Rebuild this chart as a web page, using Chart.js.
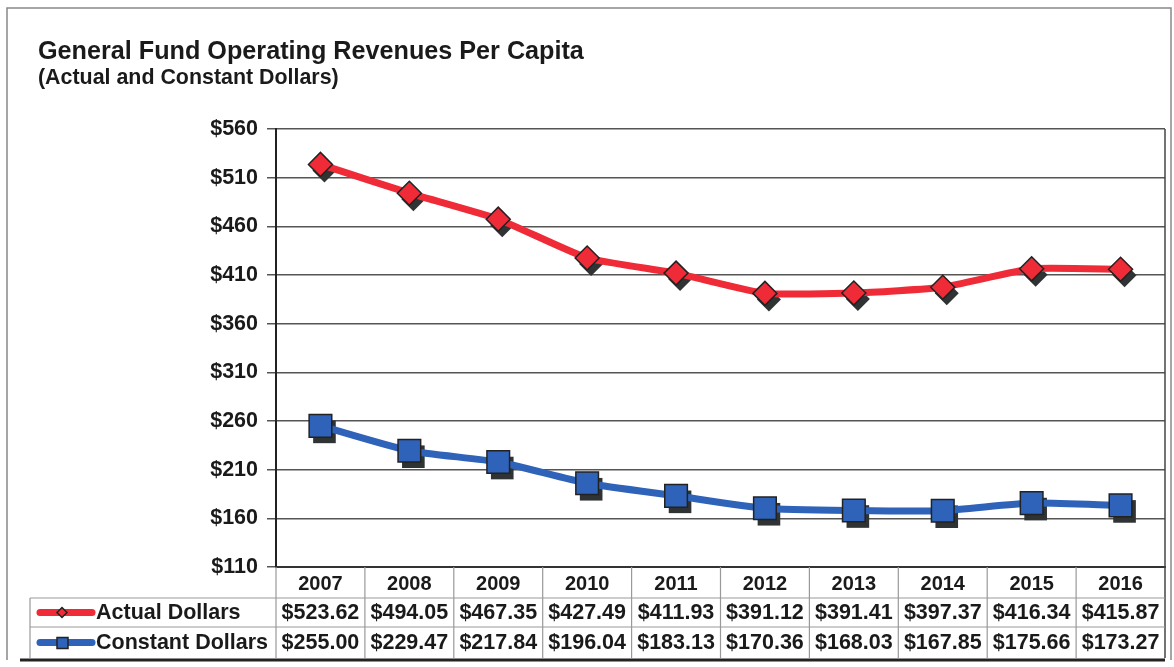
<!DOCTYPE html>
<html>
<head>
<meta charset="utf-8">
<script src="https://cdn.jsdelivr.net/npm/chart.js@4.4.1/dist/chart.umd.min.js"></script>
<style>
  html, body { margin: 0; padding: 0; background: #fff; }
  #wrap { position: relative; width: 1174px; height: 667px; font-family: "Liberation Sans", Arial, sans-serif; }
  #title { position: absolute; left: 38px; top: 36px; font-weight: bold; font-size: 25.2px; color: #1a1a1a; white-space: nowrap; }
  #subtitle { position: absolute; left: 38px; top: 65px; font-weight: bold; font-size: 21.4px; color: #1a1a1a; white-space: nowrap; }
  canvas { position: absolute; left: 0; top: 0; }
</style>
</head>
<body>
<div id="wrap">
  <canvas id="c" width="1174" height="667"></canvas>
  <div id="title">General Fund Operating Revenues Per Capita</div>
  <div id="subtitle">(Actual and Constant Dollars)</div>
</div>
<script>
const categories = ["2007","2008","2009","2010","2011","2012","2013","2014","2015","2016"];
const actualDollars = [523.62, 494.05, 467.35, 427.49, 411.93, 391.12, 391.41, 397.37, 416.34, 415.87];
const constantDollars = [255.00, 229.47, 217.84, 196.04, 183.13, 170.36, 168.03, 167.85, 175.66, 173.27];
const seriesNames = ["Actual Dollars", "Constant Dollars"];
const yTicks = [110, 160, 210, 260, 310, 360, 410, 460, 510, 560];

const RED = "#ee2b36";
const BLUE = "#2e63b9";
const FONT = '"Liberation Sans", Arial, sans-serif';

const shadowPlugin = {
  id: "markerShadow",
  beforeDatasetsDraw(chart) {
    const ctx = chart.ctx;
    ctx.save();
    ctx.fillStyle = "#2f3333";
    chart.data.datasets.forEach((ds, di) => {
      const meta = chart.getDatasetMeta(di);
      meta.data.forEach(pt => {
        const x = pt.x + 4, y = pt.y + 6;
        ctx.beginPath();
        if (ds.pointStyle === "rectRot") {
          const r = ds.pointRadius;
          ctx.moveTo(x - r, y); ctx.lineTo(x, y - r); ctx.lineTo(x + r, y); ctx.lineTo(x, y + r);
        } else {
          const s = ds.pointRadius * Math.SQRT1_2;
          ctx.rect(x - s, y - s, 2 * s, 2 * s);
        }
        ctx.closePath();
        ctx.fill();
      });
    });
    ctx.restore();
  }
};

const framePlugin = {
  id: "frameTable",
  beforeDraw(chart) {
    const ctx = chart.ctx;
    ctx.save();
    ctx.fillStyle = "#fff";
    ctx.fillRect(0, 0, chart.width, chart.height);
    ctx.strokeStyle = "#888";
    ctx.lineWidth = 1.5;
    ctx.beginPath();
    ctx.moveTo(7, 660); ctx.lineTo(7, 8); ctx.lineTo(1171, 8); ctx.lineTo(1171, 660);
    ctx.stroke();
    ctx.restore();
  },
  afterDraw(chart) {
    const ctx = chart.ctx;
    const ca = chart.chartArea;
    const xs = chart.scales.x;
    const colW = (ca.right - ca.left) / categories.length;
    const rowTop = ca.bottom, r1 = 598, r2 = 627, r3 = 658;
    const tableLeft = 30;
    ctx.save();
    ctx.strokeStyle = "#444";
    ctx.lineWidth = 1.5;
    ctx.beginPath();
    ctx.moveTo(ca.right, ca.top); ctx.lineTo(ca.right, r3);
    ctx.stroke();
    ctx.strokeStyle = "#999";
    ctx.lineWidth = 1.2;
    ctx.beginPath();
    [r1, r2].forEach(y => { ctx.moveTo(tableLeft, y); ctx.lineTo(ca.right, y); });
    ctx.moveTo(tableLeft, r1); ctx.lineTo(tableLeft, r3);
    for (let i = 0; i < categories.length; i++) {
      const xl = xs.getPixelForValue(i) - colW / 2;
      ctx.moveTo(xl, rowTop); ctx.lineTo(xl, r3);
    }
    ctx.stroke();
    ctx.strokeStyle = "#222";
    ctx.lineWidth = 3;
    ctx.beginPath();
    ctx.moveTo(tableLeft - 10, r3 + 2); ctx.lineTo(ca.right, r3 + 2);
    ctx.stroke();
    ctx.fillStyle = "#1a1a1a";
    ctx.textAlign = "center";
    ctx.textBaseline = "middle";
    categories.forEach((c, i) => {
      const x = xs.getPixelForValue(i);
      ctx.font = "bold 20px " + FONT;
      ctx.fillText(c, x, (rowTop + r1) / 2 + 2);
      ctx.font = "bold 21.5px " + FONT;
      ctx.fillText("$" + actualDollars[i].toFixed(2), x, (r1 + r2) / 2 + 1);
      ctx.fillText("$" + constantDollars[i].toFixed(2), x, (r2 + r3) / 2 + 1);
    });
    const keys = [
      { name: seriesNames[0], color: RED, y: (r1 + r2) / 2, style: "diamond" },
      { name: seriesNames[1], color: BLUE, y: (r2 + r3) / 2, style: "square" }
    ];
    keys.forEach(k => {
      ctx.strokeStyle = k.color;
      ctx.lineWidth = 7;
      ctx.lineCap = "round";
      ctx.beginPath();
      ctx.moveTo(40, k.y); ctx.lineTo(92, k.y);
      ctx.stroke();
      ctx.lineWidth = 1.5;
      ctx.strokeStyle = "#222";
      ctx.fillStyle = k.color;
      ctx.beginPath();
      if (k.style === "diamond") {
        const r = 5, cx = 62;
        ctx.moveTo(cx - r, k.y); ctx.lineTo(cx, k.y - r); ctx.lineTo(cx + r, k.y); ctx.lineTo(cx, k.y + r);
      } else {
        ctx.rect(57, k.y - 5, 11, 11);
      }
      ctx.closePath();
      ctx.fill(); ctx.stroke();
      ctx.fillStyle = "#1a1a1a";
      ctx.textAlign = "left";
      ctx.font = "bold 21.5px " + FONT;
      ctx.fillText(k.name, 96, k.y + 1);
    });
    ctx.restore();
  }
};

new Chart(document.getElementById("c"), {
  type: "line",
  data: {
    labels: categories,
    datasets: [
      {
        label: seriesNames[0],
        data: actualDollars,
        borderColor: RED,
        borderWidth: 7,
        tension: 0.15,
        pointStyle: "rectRot",
        pointRadius: 12,
        pointBackgroundColor: RED,
        pointBorderColor: "#222",
        pointBorderWidth: 1.5
      },
      {
        label: seriesNames[1],
        data: constantDollars,
        borderColor: BLUE,
        borderWidth: 7,
        tension: 0.2,
        pointStyle: "rect",
        pointRadius: 16,
        pointBackgroundColor: BLUE,
        pointBorderColor: "#222",
        pointBorderWidth: 1.5
      }
    ]
  },
  options: {
    responsive: false,
    animation: false,
    devicePixelRatio: 1,
    layout: { autoPadding: false, padding: { left: 30, right: 9, top: 129, bottom: 100 } },
    plugins: { legend: { display: false }, tooltip: { enabled: false }, title: { display: false } },
    scales: {
      x: {
        offset: true,
        grid: { display: false, drawTicks: false },
        border: { display: true, color: "#333", width: 2 },
        ticks: { display: false }
      },
      y: {
        min: 110, max: 560,
        afterBuildTicks(axis) { axis.ticks = yTicks.map(v => ({ value: v })); },
        afterFit(axis) { axis.width = 246; },
        grid: { color: "#555", lineWidth: 1.5, tickLength: 9, drawTicks: true },
        border: { display: true, color: "#222", width: 2 },
        ticks: {
          padding: 9,
          color: "#1a1a1a",
          font: { family: FONT, size: 21.5, weight: "bold" },
          callback: v => "$" + v
        }
      }
    }
  },
  plugins: [framePlugin, shadowPlugin]
});
</script>
</body>
</html>
